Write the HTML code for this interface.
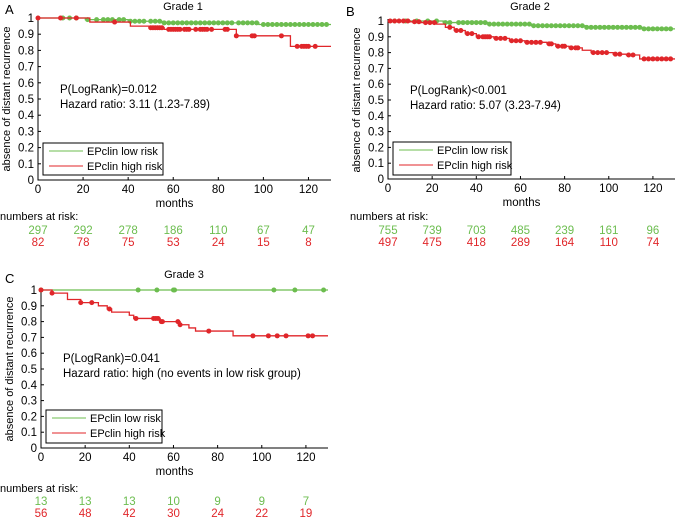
<!DOCTYPE html>
<html><head><meta charset="utf-8"><style>
body{margin:0;background:#fff;}
svg{display:block;font-family:"Liberation Sans",Arial,sans-serif;}
</style></head><body>
<svg id="c" width="678" height="519" viewBox="0 0 678 519" xmlns="http://www.w3.org/2000/svg"></svg>
<script>
// ---- data ----
const xTicks=[0,20,40,60,80,100,120];
const yTicks=[0,0.1,0.2,0.3,0.4,0.5,0.6,0.7,0.8,0.9,1];
const titles=["Grade 1","Grade 2","Grade 3"];
const pvals=["P(LogRank)=0.012","P(LogRank)<0.001","P(LogRank)=0.041"];
const hazards=["Hazard ratio: 3.11 (1.23-7.89)","Hazard ratio: 5.07 (3.23-7.94)","Hazard ratio:  high (no events in low risk group)"];
const g1LowT=[0,21,40,55,98];
const g1LowS=[1,0.99,0.98,0.97,0.96];
const g1LowC=[11,14,17,22,26,29,31,33,36,38,41,43,45,47,50,52,54,56,58,60,62,64,66,68,70,72,74,76,78,80,82,84,86,89,91,93,95,97,100,102,104,106,108,110,112,114,116,118,120,122,124,126,128];
const g1HighT=[0,23,41,50,56,88,112];
const g1HighS=[1,0.975,0.95,0.94,0.93,0.89,0.825];
const g1HighC=[0,10,17,34,50,51,52,53,54,55,58,59,60,61,62,63,65,66,67,70,72,73,74,75,77,83,84,88,95,96,108,115,117,118,119,120,123];
const g2LowT=[0,25,45,65,90,115];
const g2LowS=[1,0.99,0.98,0.97,0.96,0.95];
const g2LowC=[3,8,13,18,22,26,28,32,34,36,38,40,42,44,46,48,50,52,54,56,58,60,62,64,66,68,70,72,74,76,78,80,82,84,86,88,90,92,94,96,98,100,102,104,106,108,110,112,114,116,118,120,122,124,126,128];
const g2HighT=[0,10,15,22,26,30,35,40,48,55,62,72,76,82,88,92,102,108,114];
const g2HighS=[1,0.995,0.99,0.98,0.96,0.94,0.92,0.90,0.89,0.875,0.865,0.855,0.84,0.83,0.815,0.80,0.79,0.785,0.76];
const g2HighC=[1,3,5,7,9,12,14,17,19,21,28,31,33,36,38,41,43,44,45,46,49,51,53,56,58,60,63,65,67,69,73,74,77,79,80,83,85,86,93,95,97,99,103,105,109,111,116,118,120,122,124,126,128];
const g3LowT=[0];
const g3LowS=[1];
const g3LowC=[0,44,52.5,60,60.5,105.5,115,128];
const g3HighT=[0,5,12,18,26,30,32,40,42,54,63,67,70,87];
const g3HighS=[1,0.98,0.94,0.92,0.90,0.88,0.86,0.84,0.82,0.80,0.78,0.76,0.74,0.71];
const g3HighC=[0,5,18,23,31,43,51,52,53,54.5,55,62,63,76,96,103,107,111,121,123];
const riskLow=[[297,292,278,186,110,67,47],[755,739,703,485,239,161,96],[13,13,13,10,9,9,7]];
const riskHigh=[[82,78,75,53,24,15,8],[497,475,418,289,164,110,74],[56,48,42,30,24,22,19]];
const panelLetters=["A","B","C"];
// ---- layout ----
const panels=[
 {x0:38,x1:331,y0:180,y1:18,leg:[43,143,120,32],ann:[60,93],title:[183,10],letter:[5,14],risk:[220,234,246],riskX:0},
 {x0:388,x1:675,y0:179,y1:21,leg:[393,142,118,33],ann:[410,94],title:[530,10],letter:[346,16],risk:[220,234,246],riskX:350},
 {x0:41,x1:328,y0:448,y1:290,leg:[46,410,116,33],ann:[63,362],title:[184,278],letter:[5,283],risk:[492,505,517],riskX:0}
];
const series=[[g1LowT,g1LowS,g1LowC,g1HighT,g1HighS,g1HighC],[g2LowT,g2LowS,g2LowC,g2HighT,g2HighS,g2HighC],[g3LowT,g3LowS,g3LowC,g3HighT,g3HighS,g3HighC]];
const GREEN="#6cbd4f",RED="#e0262a",XMAX=130;
const svg=document.getElementById('c');
const NS="http://www.w3.org/2000/svg";
function mk(tag,attrs,parent,text){const e=document.createElementNS(NS,tag);for(const k in attrs)e.setAttribute(k,attrs[k]);if(text!==undefined)e.textContent=text;(parent||svg).appendChild(e);return e;}
function stepAt(T,S,t){let s=S[0];for(let i=0;i<T.length;i++){if(T[i]<=t)s=S[i];}return s;}
panels.forEach((p,pi)=>{
 const g=mk('g',{});
 
 
 const xs=t=>p.x0+(t/XMAX)*(p.x1-p.x0);
 const ys=v=>p.y0-(v)*(p.y0-p.y1);
 const ax=mk('path',{d:`M${p.x0},${p.y1-2}V${p.y0}H${p.x1}`,stroke:'#000','stroke-width':1,fill:'none'},g);
 
 xTicks.forEach(t=>{const x=xs(t);mk('line',{x1:x,x2:x,y1:p.y0,y2:p.y0-3,stroke:'#000'},g);
  const tx=mk('text',{x:x,y:p.y0+13,'font-size':11.5,'text-anchor':'middle'},g,String(t));
  });
 yTicks.forEach(v=>{const y=ys(v);mk('line',{x1:p.x0,x2:p.x0+3,y1:y,y2:y,stroke:'#000'},g);
  const tx=mk('text',{x:p.x0-4,y:y+4,'font-size':11.5,'text-anchor':'end'},g,String(v));
  });
 const xl=mk('text',{x:(p.x0+p.x1)/2-10,y:p.y0+27,'font-size':11.5,'text-anchor':'middle'},g,'months');
 
 const yc=(p.y0+p.y1)/2,yx=p.x0-28;
 const yl=mk('text',{x:yx,y:yc,'font-size':11,'text-anchor':'middle',transform:`rotate(-90 ${yx} ${yc})`},g,'absence of distant recurrence');
 
 const ti=mk('text',{x:p.title[0],y:p.title[1],'font-size':11,'text-anchor':'middle'},g,titles[pi]);
 
 const le=mk('text',{x:p.letter[0],y:p.letter[1],'font-size':13},g,panelLetters[pi]);
 
 const d=series[pi];
 [[d[0],d[1],d[2],GREEN,'low-risk'],[d[3],d[4],d[5],RED,'high-risk']].forEach(([T,S,C,col,nm])=>{
  let path=`M${xs(T[0])},${ys(S[0])}`;
  for(let i=1;i<T.length;i++){path+=`H${xs(T[i])}V${ys(S[i])}`;}
  path+=`H${xs(XMAX)}`;
  const l=mk('path',{d:path,stroke:col,'stroke-width':1.3,fill:'none'},g);
  
  C.forEach(t=>{const c=mk('circle',{cx:xs(t),cy:ys(stepAt(T,S,t)),r:2.5,fill:col},g);
   });
 });
 const a1=mk('text',{x:p.ann[0],y:p.ann[1],'font-size':11.5},g,pvals[pi]);
 
 const a2=mk('text',{x:p.ann[0],y:p.ann[1]+15,'font-size':11.5},g,hazards[pi]);
 
 const [lx,ly,lw,lh]=p.leg;
 const lg=mk('g',{},g);
 
 mk('rect',{x:lx,y:ly,width:lw,height:lh,fill:'#fff',stroke:'#000','stroke-width':1},lg);
 [[GREEN,'EPclin low risk',8],[RED,'EPclin high risk',23]].forEach(([col,txt,dy])=>{
  const e=mk('g',{},lg);
  
  mk('line',{x1:lx+6,x2:lx+40,y1:ly+dy,y2:ly+dy,stroke:col,'stroke-width':1},e);
  mk('text',{x:lx+44,y:ly+dy+4,'font-size':11},e,txt);
 });
 const nr=mk('text',{x:p.riskX,y:p.risk[0],'font-size':11},g,'numbers at risk:');
 
 xTicks.forEach((t,i)=>{
  const a=mk('text',{x:xs(t),y:p.risk[1],'font-size':11.5,'text-anchor':'middle',fill:GREEN},g,String(riskLow[pi][i]));
  
  const b=mk('text',{x:xs(t),y:p.risk[2],'font-size':11.5,'text-anchor':'middle',fill:RED},g,String(riskHigh[pi][i]));
  
 });
});
</script>
</body></html>
